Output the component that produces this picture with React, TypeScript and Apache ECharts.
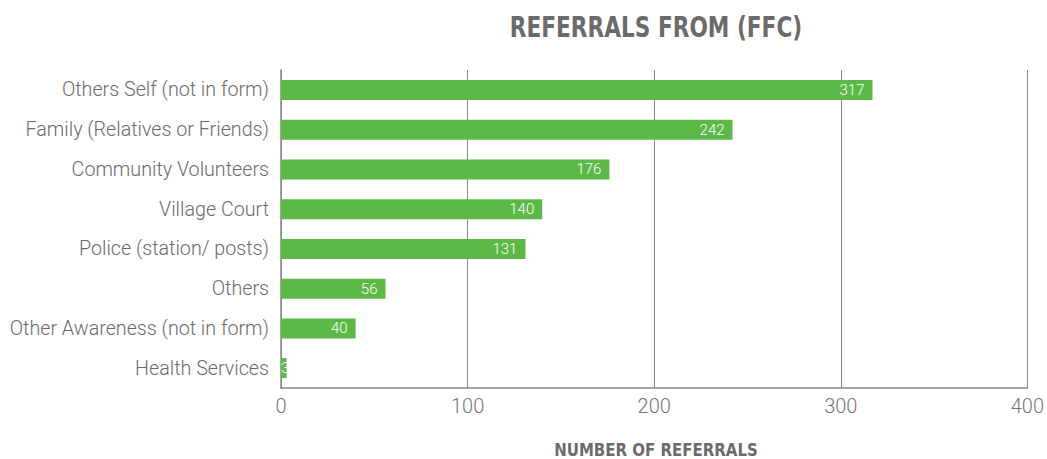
import React, { useEffect, useRef } from "react";
import * as echarts from "echarts";

const categories = [
  "Others Self (not in form)",
  "Family (Relatives or Friends)",
  "Community Volunteers",
  "Village Court",
  "Police (station/ posts)",
  "Others",
  "Other Awareness (not in form)",
  "Health Services",
];
const values = [317, 242, 176, 140, 131, 56, 40, 3];
const titleText = "REFERRALS FROM (FFC)";
const axisTitle = "NUMBER OF REFERRALS";

export default function App() {
  const ref = useRef<HTMLDivElement>(null);
  useEffect(() => {
    document.body.style.margin = "0";
    const chart = echarts.init(ref.current!, undefined, { renderer: "svg" });
    const seriesData = values.map((v) =>
      v < 10
        ? { value: v, label: { position: "insideLeft", distance: 0 } }
        : v
    );
    chart.setOption({
      animation: false,
      graphic: [
        {
          type: "text",
          x: 656,
          y: 27,
          scaleX: 0.86,
          style: {
            text: titleText,
            align: "center",
            verticalAlign: "middle",
            fontFamily: "DejaVu Sans Condensed",
            fontWeight: "bold",
            fontSize: 28,
            fill: "#6b6b6b",
          },
        },
        {
          type: "text",
          x: 656,
          y: 450,
          scaleX: 0.98,
          style: {
            text: axisTitle,
            align: "center",
            verticalAlign: "middle",
            fontFamily: "DejaVu Sans Condensed",
            fontWeight: "bold",
            fontSize: 17,
            fill: "#6b6b6b",
          },
        },
      ],
      grid: { left: 281, right: 16, top: 70, bottom: 71, containLabel: false },
      xAxis: {
        type: "value",
        min: 0,
        max: 400,
        interval: 100,
        axisLine: { show: true, lineStyle: { color: "#888", width: 1.5 } },
        axisTick: { show: false },
        splitLine: { show: true, lineStyle: { color: "#888", width: 1 } },
        axisLabel: {
          fontFamily: "Roboto",
          fontWeight: 300,
          fontSize: 20,
          color: "#777",
          margin: 8,
        },
      },
      yAxis: {
        type: "category",
        inverse: true,
        data: categories,
        axisLine: { show: true, lineStyle: { color: "#888", width: 1.5 } },
        axisTick: { show: false },
        axisLabel: {
          fontFamily: "Roboto",
          fontWeight: 300,
          fontSize: 19.7,
          color: "#6b6b6b",
          margin: 12,
        },
      },
      series: [
        {
          type: "bar",
          data: seriesData,
          barWidth: 20,
          itemStyle: { color: "#5cb947" },
          label: {
            show: true,
            position: "insideRight",
            color: "#fff",
            fontFamily: "Roboto",
            fontWeight: 300,
            fontSize: 15,
            distance: 8,
          },
        },
      ],
    });
    return () => chart.dispose();
  }, []);
  return <div ref={ref} style={{ width: 1047, height: 459 }} />;
}
